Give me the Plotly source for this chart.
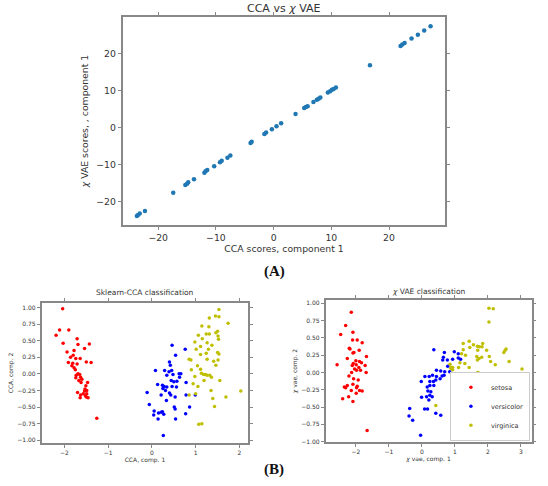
import plotly.graph_objects as go

# ---------------- data ----------------
# (A) CCA vs chi-VAE scores, component 1
cca_scores = [-23.7, -23.5, -23.2, -22.3, -17.4, -15.3, -15.0, -14.8, -13.8, -12.0, -11.8, -11.5,
              -10.3, -9.3, -9.0, -8.0, -7.5, -4.0, -3.8, -1.6, -1.3, -0.3, 0.5, 1.3, 3.8, 5.3, 5.6,
              5.9, 6.9, 7.5, 7.8, 8.1, 9.4, 9.8, 10.1, 10.4, 10.8, 16.7, 22.0, 22.3, 22.7, 23.9,
              25.0, 26.1, 27.2]
vae_scores = [-23.8, -23.5, -23.1, -22.4, -17.5, -15.4, -15.1, -14.7, -13.9, -12.1, -11.7, -11.4,
              -10.4, -9.3, -8.9, -8.1, -7.5, -4.1, -3.8, -1.7, -1.3, -0.4, 0.4, 1.2, 3.7, 5.3, 5.6,
              5.8, 6.9, 7.5, 7.8, 8.1, 9.5, 9.8, 10.2, 10.4, 10.8, 16.8, 22.0, 22.4, 22.8, 24.0,
              25.0, 26.2, 27.3]
top_ticks = [-20, -10, 0, 10, 20]

# (B) left: Sklearn-CCA classification
cca_setosa_x = [-2.04, -2.11, -1.90, -2.19, -2.03, -1.71, -1.69, -1.43, -1.54, -1.94, -1.78, -1.80,
                -1.86, -1.74, -1.64, -1.91, -1.50, -1.39, -1.81, -1.83, -1.78, -1.71, -1.75, -1.69,
                -1.65, -1.73, -1.63, -1.60, -1.74, -1.67, -1.62, -1.47, -1.51, -1.53, -1.54, -1.70,
                -1.49, -1.57, -1.49, -1.63, -1.52, -1.50, -1.64, -1.46, -1.26]
cca_setosa_y = [0.98, 0.66, 0.66, 0.58, 0.46, 0.53, 0.44, 0.45, 0.38, 0.33, 0.35, 0.28,
                0.25, 0.23, 0.23, 0.17, 0.18, 0.17, 0.16, 0.12, 0.09, 0.15, 0.06, 0.00,
                -0.01, -0.02, -0.05, -0.08, -0.06, -0.10, -0.13, -0.13, -0.18, -0.23, -0.26, -0.28,
                -0.25, -0.30, -0.30, -0.32, -0.33, -0.35, -0.36, -0.36, -0.67]
cca_versi_x = [0.46, 0.76, 0.40, 0.54, 0.29, 0.08, 0.34, 0.45, 0.48, 0.62, 0.66, 0.42, 0.57, 0.50,
               0.44, 0.24, 0.28, 0.34, 0.31, -0.11, 0.56, 0.40, 0.21, 0.43, 0.53, 0.78, -0.06, 0.33,
               0.51, 0.53, 0.86, 0.05, 0.15, 0.21, 0.24, 0.04, 0.27, 0.14, 0.54, 0.77, 0.26, 0.99,
               0.78, 0.25, 0.13, 0.63, 0.39, 0.46]
cca_versi_y = [0.43, 0.37, 0.18, 0.28, 0.05, 0.05, -0.02, 0.05, -0.01, 0.00, 0.00, 0.13, -0.11, -0.12,
               -0.10, -0.17, -0.19, -0.20, -0.25, -0.28, -0.20, -0.29, -0.32, -0.32, -0.35, -0.32, -0.46,
               -0.40, -0.50, -0.53, -0.50, -0.56, -0.59, -0.58, -0.57, -0.62, -0.61, -0.68, -0.68, -0.60,
               -0.93, -0.32, -0.13, -0.22, -0.16, -0.05, 0.03, -0.19]
cca_virg_x = [1.53, 1.45, 1.53, 1.31, 1.74, 1.14, 1.30, 1.50, 1.46, 1.24, 1.06, 1.15, 1.31, 1.51,
              1.52, 0.98, 1.26, 1.11, 1.37, 1.01, 1.29, 0.85, 0.89, 1.11, 1.24, 1.50, 1.53, 1.26,
              1.41, 1.51, 0.90, 1.04, 1.11, 1.13, 1.18, 1.22, 1.26, 1.32, 0.98, 1.36, 1.46, 1.19,
              1.05, 1.35, 0.85, 1.00, 1.39, 1.69, 2.03, 1.43, 1.07, 1.14, 0.94, 1.55]
cca_virg_y = [0.97, 0.87, 0.86, 0.84, 0.76, 0.72, 0.71, 0.64, 0.62, 0.60, 0.58, 0.53, 0.60, 0.57,
              0.52, 0.48, 0.47, 0.41, 0.43, 0.37, 0.37, 0.22, 0.21, 0.29, 0.31, 0.32, 0.30, 0.22,
              0.19, 0.21, 0.06, 0.12, 0.07, 0.01, -0.01, -0.01, -0.02, -0.02, -0.04, -0.05, 0.13, -0.10,
              -0.19, -0.25, -0.32, -0.30, -0.37, -0.35, -0.26, -0.49, -0.76, -0.75, -0.15, -0.10]

# (B) right: chi-VAE classification
vae_setosa_x = [-2.14, -2.31, -2.46, -2.09, -2.10, -1.96, -1.81, -2.20, -2.18, -2.06, -2.09, -1.90,
                -1.68, -2.26, -2.00, -1.89, -1.83, -2.08, -2.11, -1.99, -1.72, -1.91, -2.57, -2.04,
                -2.13, -1.98, -1.86, -1.69, -2.21, -2.07, -1.93, -2.26, -2.09, -1.96, -2.31, -1.98,
                -2.14, -1.89, -1.81, -1.99, -2.22, -2.40, -2.09, -1.66, -2.35]
vae_setosa_y = [0.87, 0.68, 0.55, 0.58, 0.47, 0.47, 0.43, 0.35, 0.34, 0.29, 0.28, 0.32,
                0.23, 0.20, 0.17, 0.16, 0.14, 0.13, 0.10, 0.11, 0.10, 0.07, 0.11, 0.05,
                0.00, 0.03, 0.03, 0.00, -0.05, -0.09, -0.11, -0.19, -0.17, -0.20, -0.22, -0.22,
                -0.26, -0.26, -0.27, -0.30, -0.35, -0.38, -0.42, -0.84, -0.21]
vae_versi_x = [0.36, 0.68, 0.98, 1.10, 0.65, 0.63, 0.77, 0.93, 1.10, 1.17, 0.78, 0.84, 0.44, 0.57,
               0.69, 0.67, 0.61, 1.00, 0.09, 0.22, 0.32, 0.44, 0.55, -0.02, 0.24, 0.35, 0.42, 0.16,
               0.24, 0.36, 0.27, 0.18, 1.12, -0.01, 0.24, 0.14, 0.31, 0.21, 0.08, 0.17, 0.42, 0.57,
               0.98, 1.15, 1.17, -0.37, -0.39, -0.28, -0.04]
vae_versi_y = [0.33, 0.29, 0.30, 0.27, 0.22, 0.18, 0.18, 0.19, 0.21, 0.19, 0.09, 0.01, 0.03, 0.02,
               0.01, -0.04, -0.05, -0.05, -0.06, -0.06, -0.04, -0.06, -0.09, -0.13, -0.13, -0.13, -0.11,
               -0.21, -0.19, -0.19, -0.28, -0.27, -0.20, -0.36, -0.33, -0.35, -0.35, -0.40, -0.53, -0.53,
               -0.59, -0.62, -0.47, -0.53, -0.55, -0.52, -0.63, -0.69, -0.91]
vae_virg_x = [2.03, 2.16, 2.03, 1.25, 1.43, 1.56, 1.68, 1.74, 1.84, 1.82, 1.45, 1.25, 1.69, 1.96,
              2.52, 2.55, 2.48, 2.64, 1.20, 1.32, 1.66, 1.73, 1.81, 1.68, 2.04, 2.08, 2.22, 3.03,
              0.90, 0.93, 1.11, 1.03, 0.95, 1.15, 1.10, 1.33, 1.48, 1.70, 1.66, 1.43, 1.30, 1.15,
              0.85, 1.10, 1.20, 1.45, 1.86, 1.15, 1.20, 1.20, 0.42, 0.87, 0.93, 1.05]
vae_virg_y = [0.93, 0.92, 0.73, 0.42, 0.45, 0.40, 0.38, 0.37, 0.42, 0.37, 0.36, 0.33, 0.32, 0.32,
              0.32, 0.34, 0.29, 0.16, 0.27, 0.25, 0.23, 0.20, 0.22, 0.18, 0.23, 0.16, 0.11, 0.05,
              0.07, 0.04, 0.07, -0.03, -0.06, -0.07, -0.10, -0.05, -0.05, 0.00, -0.01, 0.07, 0.13, 0.14,
              0.12, -0.22, -0.22, -0.26, -0.21, -0.32, -0.34, -0.54, -0.48, 0.06, 0.07, -0.08]

bottom_xticks_left = [-2, -1, 0, 1, 2]
bottom_xticks_right = [-2, -1, 0, 1, 2, 3]
bottom_yticks = [-1.0, -0.75, -0.5, -0.25, 0.0, 0.25, 0.5, 0.75, 1.0]

# ---------------- styling ----------------
FONT = "DejaVu Sans"
TXT = "#333333"
FRAME = "#888888"
RED, BLUE, YEL = "#ff0000", "#0000ff", "#bfbf00"

fig = go.Figure()

fig.add_trace(go.Scatter(x=cca_scores, y=vae_scores, mode="markers",
                         marker=dict(color="#1f77b4", size=4.5), showlegend=False,
                         xaxis="x", yaxis="y"))

for xs, ys, c in [(cca_setosa_x, cca_setosa_y, RED), (cca_versi_x, cca_versi_y, BLUE),
                  (cca_virg_x, cca_virg_y, YEL)]:
    fig.add_trace(go.Scatter(x=xs, y=ys, mode="markers", marker=dict(color=c, size=3.5),
                             showlegend=False, xaxis="x2", yaxis="y2"))

for xs, ys, c, name in [(vae_setosa_x, vae_setosa_y, RED, "setosa"),
                        (vae_versi_x, vae_versi_y, BLUE, "versicolor"),
                        (vae_virg_x, vae_virg_y, YEL, "virginica")]:
    fig.add_trace(go.Scatter(x=xs, y=ys, mode="markers", marker=dict(color=c, size=3.5),
                             name=name, showlegend=True, xaxis="x3", yaxis="y3"))

def ax(domain, rng, ticks, fmt, size, title, standoff, anchor, ticklen=3):
    return dict(domain=domain, range=rng, tickvals=ticks, tickformat=fmt,
                showgrid=False, zeroline=False, showline=True, mirror="all",
                linecolor=FRAME, linewidth=1.5, ticks="outside", ticklen=ticklen,
                tickcolor=FRAME, tickwidth=1, tickfont=dict(family=FONT, size=size, color=TXT),
                title=dict(text=title, font=dict(family=FONT, size=size, color=TXT),
                           standoff=standoff),
                anchor=anchor, automargin=False)

fig.update_layout(
    width=548, height=486, margin=dict(l=0, r=0, t=0, b=0),
    paper_bgcolor="white", plot_bgcolor="white",
    xaxis=ax([0.2245, 0.812], [-26.1, 29.7], top_ticks, "", 9.3, "CCA scores, component 1", 3, "y", 3.5),
    yaxis=ax([0.537, 0.965], [-26.2, 29.8], top_ticks, "", 9.3, "<i>χ</i> VAE scores, , component 1", 6, "x", 3.5),
    xaxis2=ax([0.076, 0.453], [-2.52, 2.2], bottom_xticks_left, "", 6, "CCA, comp. 1", 2, "y2"),
    yaxis2=ax([0.088, 0.377], [-1.045, 1.07], bottom_yticks, ".2f", 6, "CCA, comp. 2", 3, "x2"),
    xaxis3=ax([0.594, 0.970], [-2.92, 3.32], bottom_xticks_right, "", 6, "<i>χ</i> vae, comp. 1", 2, "y3"),
    yaxis3=ax([0.090, 0.383], [-1.01, 1.05], bottom_yticks, ".2f", 6, "<i>χ</i> vae, comp. 2", 3, "x3"),
    legend=dict(x=0.967, y=0.093, xanchor="right", yanchor="bottom",
                bgcolor="white", bordercolor="#cccccc", borderwidth=1,
                font=dict(family=FONT, size=6.5, color=TXT), itemwidth=30,
                tracegroupgap=0),
    annotations=[
        dict(text="CCA vs <i>χ</i> VAE", x=0.518, y=1 - 8 / 486, xref="paper", yref="paper",
             showarrow=False, font=dict(family=FONT, size=11, color=TXT),
             xanchor="center", yanchor="middle"),
        dict(text="Sklearn-CCA classification", x=0.265, y=1 - 292 / 486, xref="paper", yref="paper",
             showarrow=False, font=dict(family=FONT, size=7.5, color=TXT),
             xanchor="center", yanchor="middle"),
        dict(text="<i>χ</i> VAE classification", x=0.782, y=1 - 291 / 486, xref="paper", yref="paper",
             showarrow=False, font=dict(family=FONT, size=7.5, color=TXT),
             xanchor="center", yanchor="middle"),
        dict(text="<b>(A)</b>", x=0.5, y=1 - 271 / 486, xref="paper", yref="paper",
             showarrow=False, font=dict(family="Liberation Serif", size=15, color="#111111"),
             xanchor="center", yanchor="middle"),
        dict(text="<b>(B)</b>", x=0.5, y=1 - 469 / 486, xref="paper", yref="paper",
             showarrow=False, font=dict(family="Liberation Serif", size=15, color="#111111"),
             xanchor="center", yanchor="middle"),
    ],
)

fig.write_html("out.html")
